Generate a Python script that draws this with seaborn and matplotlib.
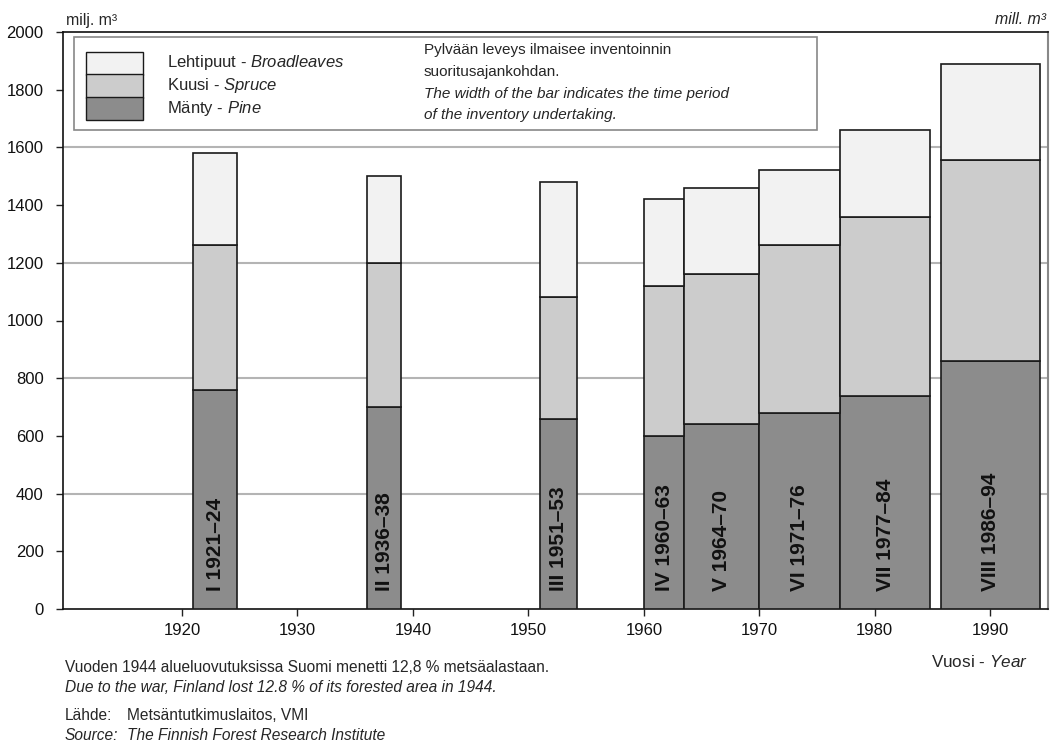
import matplotlib
matplotlib.use("Agg")
import matplotlib.pyplot as plt
import seaborn as sns
from matplotlib.patches import Rectangle

# Inventory periods (bar edges in years) and growing stock, milj. m3
labels = ["I 1921–24", "II 1936–38", "III 1951–53", "IV 1960–63",
          "V 1964–70", "VI 1971–76", "VII 1977–84", "VIII 1986–94"]
start = [1921, 1936, 1951, 1960, 1963.5, 1970, 1977, 1985.7]
end = [1924.8, 1939, 1954.2, 1963.5, 1970, 1977, 1984.8, 1994.3]
pine = [760, 700, 660, 600, 640, 680, 740, 860]
spruce = [500, 500, 420, 520, 520, 580, 620, 695]
broadleaves = [320, 300, 400, 300, 300, 260, 300, 335]

sns.set_theme(style="white")
plt.rcParams['font.family'] = ['Liberation Sans', 'DejaVu Sans']
plt.rcParams['mathtext.fontset'] = 'custom'
plt.rcParams['mathtext.rm'] = 'Liberation Sans'
plt.rcParams['mathtext.it'] = 'Liberation Sans:italic'

W, H = 1050, 749
fig = plt.figure(figsize=(W / 100, H / 100), dpi=100)
ax = fig.add_axes([63 / W, 1 - 609 / H, (1048 - 63) / W, (609 - 32) / H])

colors = {"pine": "#8c8c8c", "spruce": "#cccccc", "broad": "#f2f2f2"}
edge = "#1a1a1a"

widths = [e - s for s, e in zip(start, end)]
bottom2 = pine
bottom3 = [p + s for p, s in zip(pine, spruce)]
ax.bar(start, pine, width=widths, align="edge", color=colors["pine"],
       edgecolor=edge, linewidth=1.2, zorder=3)
ax.bar(start, spruce, width=widths, bottom=bottom2, align="edge",
       color=colors["spruce"], edgecolor=edge, linewidth=1.2, zorder=3)
ax.bar(start, broadleaves, width=widths, bottom=bottom3, align="edge",
       color=colors["broad"], edgecolor=edge, linewidth=1.2, zorder=3)

for s, w, lab in zip(start, widths, labels):
    ax.text(s + w / 2, 62, lab, rotation=90, ha="center", va="bottom",
            fontsize=15, fontweight="bold", color="#111111", zorder=4)

ax.set_xlim(1909.7, 1995)
ax.set_ylim(0, 2000)
ax.set_xticks(range(1920, 1991, 10))
ax.set_yticks(range(0, 2001, 200))
for y in [400, 800, 1200, 1600]:
    ax.axhline(y, color="#b4b4b4", linewidth=1.5, zorder=1)
ax.tick_params(axis="both", which="both", direction="out", length=5,
               width=1, color="#222222", labelsize=12, labelcolor="#111111",
               left=True, bottom=True, pad=5)
ax.tick_params(axis="y", pad=9)
for side in ["left", "bottom", "top"]:
    ax.spines[side].set_color("#111111")
    ax.spines[side].set_linewidth(1.2)
ax.spines["right"].set_color("#888888")
ax.spines["right"].set_linewidth(1.5)

# Legend box
def px(x, y):
    return x / W, 1 - y / H

lx, ly = px(74, 130)
fig.patches.append(Rectangle((lx, ly), (817 - 74) / W, (130 - 37) / H,
                             transform=fig.transFigure, facecolor="white",
                             edgecolor="#888888", linewidth=1.2, zorder=5))
legend_items = [("broad", "Lehtipuut - $\\mathit{Broadleaves}$", 51.7),
                ("spruce", "Kuusi - $\\mathit{Spruce}$", 74.5),
                ("pine", "Mänty - $\\mathit{Pine}$", 97.3)]
for key, text, top in legend_items:
    x0, y0 = px(86, top + 23)
    fig.patches.append(Rectangle((x0, y0), 57 / W, 23 / H,
                                 transform=fig.transFigure,
                                 facecolor=colors[key], edgecolor=edge,
                                 linewidth=1.0, zorder=6))
    tx, ty = px(167, top + 11)
    fig.text(tx, ty, text, fontsize=12, va="center", ha="left", zorder=7)

fig.text(*px(424, 50), "Pylvään leveys ilmaisee inventoinnin", fontsize=11,
         va="center", zorder=7)
fig.text(*px(424, 72), "suoritusajankohdan.", fontsize=11, va="center", zorder=7)
fig.text(*px(424, 94), "The width of the bar indicates the time period",
         fontsize=11, va="center", style="italic", zorder=7)
fig.text(*px(424, 115), "of the inventory undertaking.", fontsize=11,
         va="center", style="italic", zorder=7)

# Units and axis titles
fig.text(*px(66, 20), "milj. m³", fontsize=11.4, va="center", ha="left")
fig.text(*px(1046, 20), "mill. m³", fontsize=11.4, va="center", ha="right",
         style="italic")
fig.text(*px(1028, 662), "Vuosi - $\\mathit{Year}$", fontsize=12.3,
         va="center", ha="right")

# Footnotes
fig.text(*px(65, 667), "Vuoden 1944 alueluovutuksissa Suomi menetti 12,8 % metsäalastaan.",
         fontsize=11.2, va="center")
fig.text(*px(65, 687), "Due to the war, Finland lost 12.8 % of its forested area in 1944.",
         fontsize=11.2, va="center", style="italic")
fig.text(*px(65, 715), "Lähde:", fontsize=11.2, va="center")
fig.text(*px(127, 715), "Metsäntutkimuslaitos, VMI", fontsize=11.2, va="center")
fig.text(*px(65, 735), "Source:", fontsize=11.2, va="center", style="italic")
fig.text(*px(127, 735), "The Finnish Forest Research Institute", fontsize=11.2,
         va="center", style="italic")

fig.savefig("out.png", dpi=100)
